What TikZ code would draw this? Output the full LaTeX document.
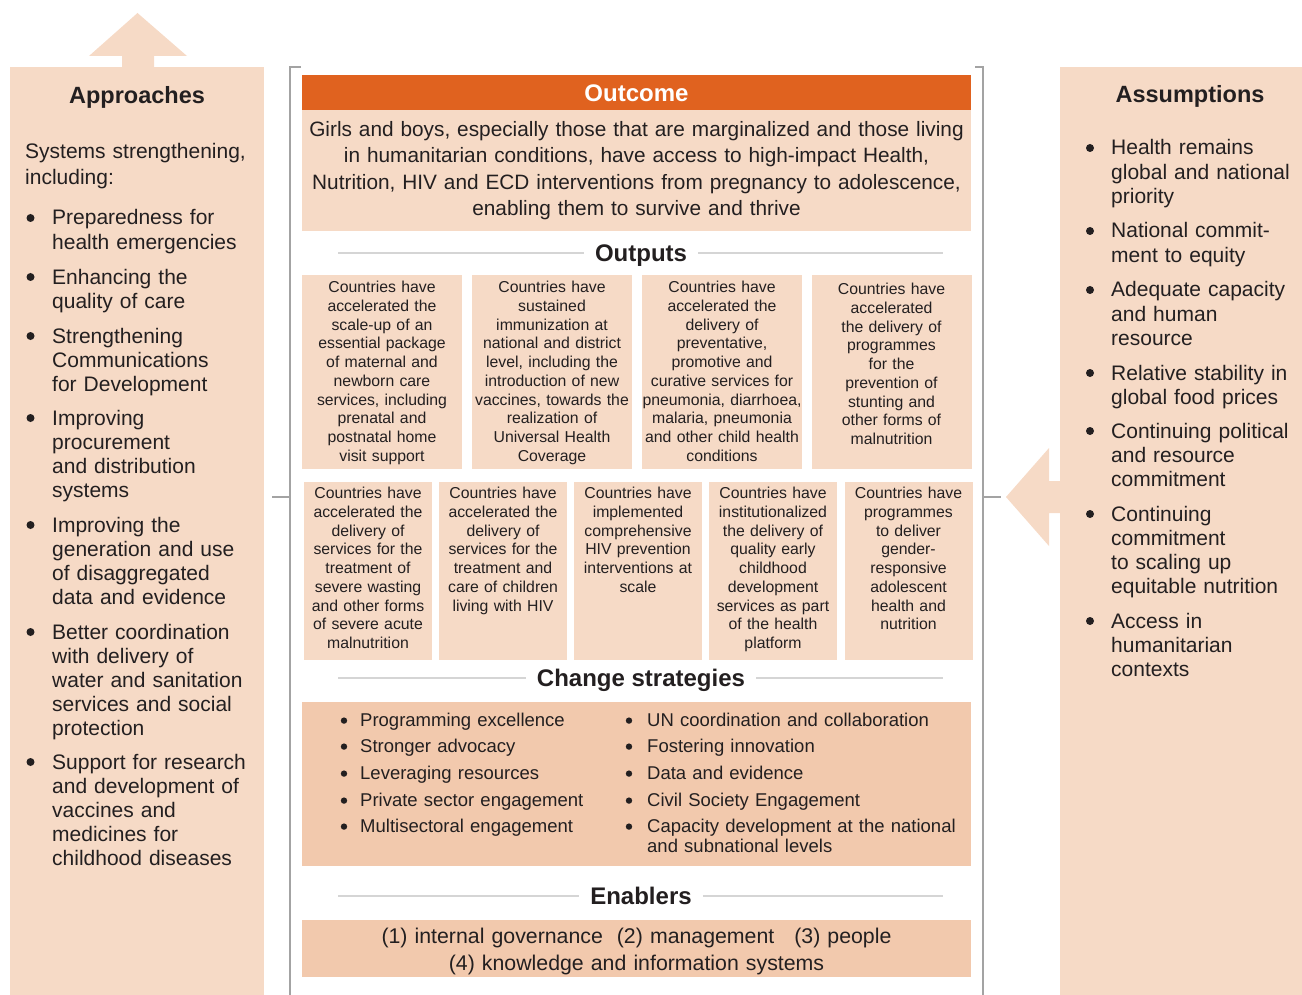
\documentclass[tikz,border=0pt]{standalone}
\usepackage{fontspec}
\setmainfont{Liberation Sans}
\definecolor{peach}{HTML}{F6DAC6}
\definecolor{peachd}{HTML}{F2C9AD}
\definecolor{orng}{HTML}{E0621F}
\definecolor{brkc}{HTML}{A3A3A3}
\definecolor{hlc}{HTML}{D5D5D5}
\definecolor{ink}{HTML}{231F20}
\tikzset{
  brk/.style={draw=brkc, line width=2.2pt},
  hl/.style={draw=hlc, line width=1.1pt},
  headtxt/.style={font={\fontsize{23.5}{26}\selectfont\bfseries}, inner sep=0pt, anchor=base, text=ink},
  midhead/.style={font={\fontsize{24}{26}\selectfont\bfseries}, inner ysep=0pt, inner xsep=11pt, anchor=base, text=ink},
  sidetxt/.style={font={\fontsize{21}{24.2}\selectfont}, inner sep=0pt, anchor=base west, text width=240pt, align=left, text=ink},
  bigdot/.style={circle, fill=ink, inner sep=0pt, minimum size=8pt},
  smalldot/.style={circle, fill=ink, inner sep=0pt, minimum size=6.4pt},
  outtxt/.style={font={\fontsize{20.8}{26.5}\selectfont}, inner sep=0pt, anchor=base, text width=669pt, align=center, text=ink},
  otxt/.style={font={\fontsize{15.8}{18.75}\selectfont}, inner sep=0pt, anchor=base, text width=#1, align=center, text=ink},
  obox/.style={fill=peach, inner sep=0pt, minimum width=#1},
  stxt/.style={font={\fontsize{18.5}{19.6}\selectfont}, inner sep=0pt, anchor=base west, text width=330pt, align=left, text=ink},
  etxt/.style={font={\fontsize{21.3}{27}\selectfont}, inner sep=0pt, anchor=base, text width=669pt, align=center, text=ink},
}
\newcommand\sitem[5]{%
  \node[bigdot] (#1b) at (#2,#4-7) {};
  \node[sidetxt] (#1) at (#3,#4) {#5};}
\newcommand\stitem[5]{%
  \node[smalldot] (#1b) at (#2,#4-6) {};
  \node[stxt] (#1) at (#3,#4) {#5};}
\begin{document}
\begin{tikzpicture}[x=1pt,y=-1pt]
\useasboundingbox (0,0) rectangle (1302,995);
% side panels and arrows
\fill[peach] (10,67) rectangle (264,995);
\fill[peach] (1060,67) rectangle (1302,995);
\fill[peach] (122,67) -- (122,56) -- (89,56) -- (137.5,13) -- (187,56) -- (154,56) -- (154,67) -- cycle;
\fill[peach] (1060,481) -- (1049,481) -- (1049,448) -- (1006,497) -- (1049,546) -- (1049,513) -- (1060,513) -- cycle;
% brackets
\draw[brk] (301,67) -- (290,67) -- (290,996);
\draw[brk] (272,497) -- (290,497);
\draw[brk] (975,67) -- (983,67) -- (983,996);
\draw[brk] (983,497) -- (1001,497);

% Approaches
\node[headtxt] (apph) at (137,103.5) {Approaches};
\node[sidetxt, font={\fontsize{21}{26}\selectfont}] (appi) at (25,159) {Systems strengthening,\\including:};
\sitem{a1}{30.5}{52}{225}{Preparedness for\\health emergencies}
\sitem{a2}{30.5}{52}{284}{Enhancing the\\quality of care}
\sitem{a3}{30.5}{52}{343}{Strengthening\\Communications\\for Development}
\sitem{a4}{30.5}{52}{425}{Improving\\procurement\\and distribution\\systems}
\sitem{a5}{30.5}{52}{532}{Improving the\\generation and use\\of disaggregated\\data and evidence}
\sitem{a6}{30.5}{52}{639}{Better coordination\\with delivery of\\water and sanitation\\services and social\\protection}
\sitem{a7}{30.5}{52}{769}{Support for research\\and development of\\vaccines and\\medicines for\\childhood diseases}

% Assumptions
\node[headtxt] (assh) at (1190,102.5) {Assumptions};
\sitem{s1}{1090}{1111}{155}{Health remains\\global and national\\priority}
\sitem{s2}{1090}{1111}{238}{National commit-\\ment to equity}
\sitem{s3}{1090}{1111}{297}{Adequate capacity\\and human\\resource}
\sitem{s4}{1090}{1111}{380}{Relative stability in\\global food prices}
\sitem{s5}{1090}{1111}{438}{Continuing political\\and resource\\commitment}
\sitem{s6}{1090}{1111}{521}{Continuing\\commitment\\to scaling up\\equitable nutrition}
\sitem{s7}{1090}{1111}{628}{Access in\\humanitarian\\contexts}

% Outcome
\node[fill=orng, inner sep=0pt, minimum width=669pt, minimum height=35pt] (ohead) at (636.5,92.5) {};
\node[headtxt, font={\fontsize{24}{26}\selectfont\bfseries}, text=white] (otitle) at (636.5,101.5) {Outcome};
\node[fill=peach, inner sep=0pt, minimum width=669pt, minimum height=121pt] (obody) at (636.5,170.5) {};
\node[outtxt] (otext) at (636.5,136.5) {Girls and boys, especially those that are marginalized and those living\\in humanitarian conditions, have access to high-impact Health,\\Nutrition, HIV and ECD interventions from pregnancy to adolescence,\\enabling them to survive and thrive};

% Outputs heading
\node[midhead] (hout) at (641,261.5) {Outputs};
\coordinate (houtL) at (338,253);
\coordinate (houtR) at (943,253);
\draw[hl] (houtL) -- (hout.west |- houtL);
\draw[hl] (hout.east |- houtR) -- (houtR);

% Outputs row 1
\node[obox=160pt, minimum height=194pt] (b1) at (382,372) {};
\node[obox=160pt, minimum height=194pt] (b2) at (552,372) {};
\node[obox=160pt, minimum height=194pt] (b3) at (722,372) {};
\node[obox=160pt, minimum height=194pt] (b4) at (891.5,372) {};
\node[otxt=160pt] (b1t) at (382,292.7) {Countries have\\accelerated the\\scale-up of an\\essential package\\of maternal and\\newborn care\\services, including\\prenatal and\\postnatal home\\visit support};
\node[otxt=160pt] (b2t) at (552,292.7) {Countries have\\sustained\\immunization at\\national and district\\level, including the\\introduction of new\\vaccines, towards the\\realization of\\Universal Health\\Coverage};
\node[otxt=160pt] (b3t) at (722,292.7) {Countries have\\accelerated the\\delivery of\\preventative,\\promotive and\\curative services for\\pneumonia, diarrhoea,\\malaria, pneumonia\\and other child health\\conditions};
\node[otxt=160pt] (b4t) at (891.5,294.7) {Countries have\\accelerated\\the delivery of\\programmes\\for the\\prevention of\\stunting and\\other forms of\\malnutrition};

% Outputs row 2
\node[obox=128pt, minimum height=178pt] (c1) at (368,571) {};
\node[obox=128pt, minimum height=178pt] (c2) at (503,571) {};
\node[obox=128pt, minimum height=178pt] (c3) at (638,571) {};
\node[obox=128pt, minimum height=178pt] (c4) at (773,571) {};
\node[obox=128pt, minimum height=178pt] (c5) at (908.5,571) {};
\node[otxt=128pt] (c1t) at (368,498.7) {Countries have\\accelerated the\\delivery of\\services for the\\treatment of\\severe wasting\\and other forms\\of severe acute\\malnutrition};
\node[otxt=128pt] (c2t) at (503,498.7) {Countries have\\accelerated the\\delivery of\\services for the\\treatment and\\care of children\\living with HIV};
\node[otxt=128pt] (c3t) at (638,498.7) {Countries have\\implemented\\comprehensive\\HIV prevention\\interventions at\\scale};
\node[otxt=128pt] (c4t) at (773,498.7) {Countries have\\institutionalized\\the delivery of\\quality early\\childhood\\development\\services as part\\of the health\\platform};
\node[otxt=128pt] (c5t) at (908.5,498.7) {Countries have\\programmes\\to deliver\\gender-\\responsive\\adolescent\\health and\\nutrition};

% Change strategies
\node[midhead] (hcs) at (641,686.5) {Change strategies};
\coordinate (hcsL) at (338,678);
\coordinate (hcsR) at (943,678);
\draw[hl] (hcsL) -- (hcs.west |- hcsL);
\draw[hl] (hcs.east |- hcsR) -- (hcsR);
\node[fill=peachd, inner sep=0pt, minimum width=669pt, minimum height=164pt] (sbox) at (636.5,784) {};
\stitem{l1}{344}{360}{726.6}{Programming excellence}
\stitem{l2}{344}{360}{752.6}{Stronger advocacy}
\stitem{l3}{344}{360}{779.6}{Leveraging resources}
\stitem{l4}{344}{360}{806.6}{Private sector engagement}
\stitem{l5}{344}{360}{832.6}{Multisectoral engagement}
\stitem{r1}{629}{647}{726.6}{UN coordination and collaboration}
\stitem{r2}{629}{647}{752.6}{Fostering innovation}
\stitem{r3}{629}{647}{779.6}{Data and evidence}
\stitem{r4}{629}{647}{806.6}{Civil Society Engagement}
\stitem{r5}{629}{647}{832.6}{Capacity development at the national\\and subnational levels}

% Enablers
\node[midhead] (hen) at (641,904) {Enablers};
\coordinate (henL) at (338,896);
\coordinate (henR) at (943,896);
\draw[hl] (henL) -- (hen.west |- henL);
\draw[hl] (hen.east |- henR) -- (henR);
\node[fill=peachd, inner sep=0pt, minimum width=669pt, minimum height=57pt] (ebox) at (636.5,948.5) {};
\node[etxt] (etext) at (636.5,943.7) {(1) internal governance\hspace{14pt}(2) management\hspace{20pt}(3) people\\(4) knowledge and information systems};
\end{tikzpicture}
\end{document}
